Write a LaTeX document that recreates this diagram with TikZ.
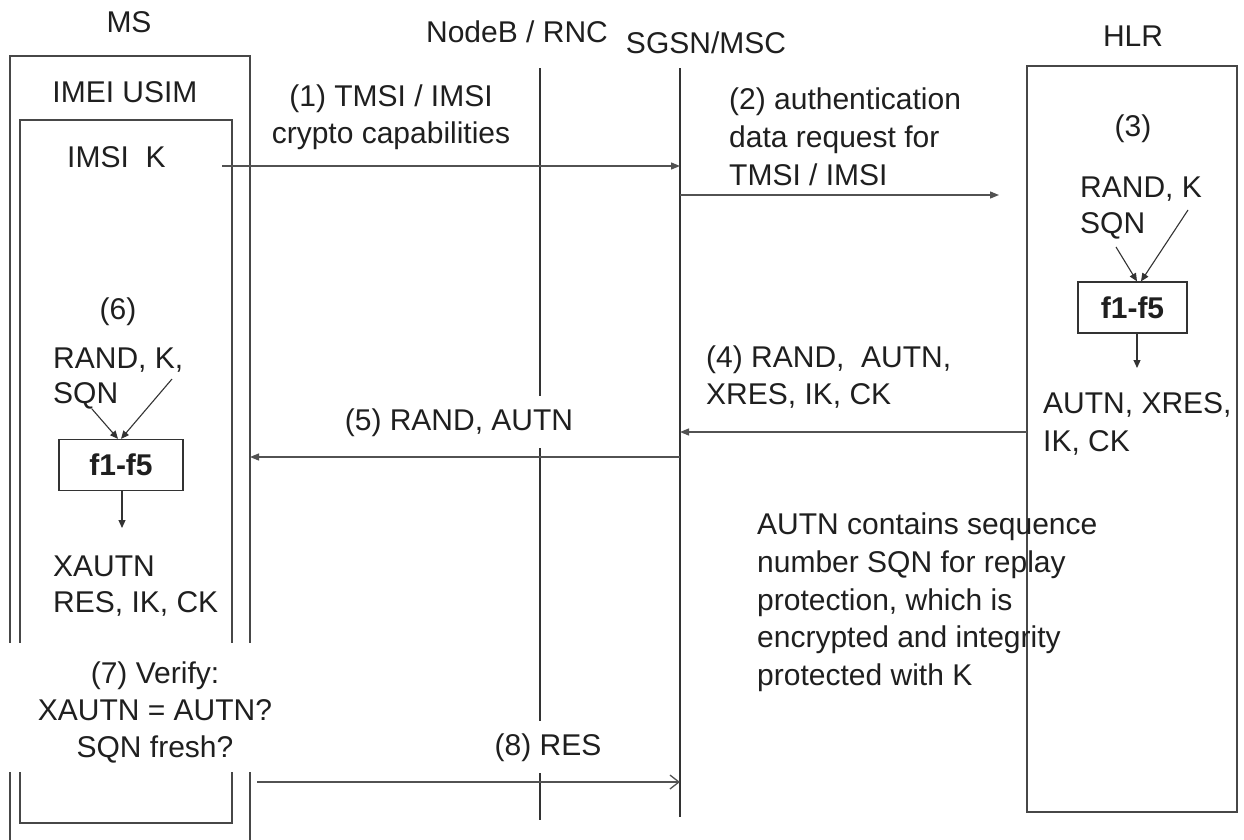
\documentclass[tikz,border=0pt]{standalone}
\usepackage{fontspec}
\setmainfont{Liberation Sans}
\usetikzlibrary{arrows.meta}
\begin{document}
\begin{tikzpicture}[x=1pt,y=-1pt,
  txt/.style={font=\fontsize{30}{37}\selectfont, text=black!88, inner sep=0pt},
  lbl/.style={txt, fill=white, inner xsep=6pt, inner ysep=12pt},
  frame/.style={draw=black!72, line width=1.4pt},
  life/.style={draw=black!80, line width=1.3pt},
  msg/.style={draw=black!68, line width=1.3pt, -{Triangle[length=9pt,width=7pt]}},
  msgopen/.style={draw=black!68, line width=1.3pt, -{Straight Barb[length=9pt,width=14pt]}},
  fbox/.style={draw=black!80, line width=1.3pt, font=\fontsize{30}{37}\selectfont\bfseries, text=black!88, minimum width=#1, minimum height=51pt, inner sep=0pt},
  inarr/.style={draw=black!80, line width=1.1pt, -{Triangle[length=8pt,width=7pt]}}
]
\useasboundingbox[fill=white] (0,0) rectangle (1244,839);

% ---- frames ----
\draw[frame] (10,860) -- (10,56) -- (250,56) -- (250,860);
\draw[frame] (20,120) rectangle (232,823);
\draw[frame] (1027,66) rectangle (1237,812);

% ---- lifelines ----
\coordinate (nbT) at (540,68);
\coordinate (nbB) at (540,820);
\coordinate (sgT) at (680,68);
\coordinate (sgB) at (680,817);
\draw[life] (nbT) -- (nbB);
\draw[life] (sgT) -- (sgB);

% ---- headers ----
\node[txt, anchor=base] (hMS) at (129,32) {MS};
\node[txt, anchor=base] (hNB) at (517,42) {NodeB / RNC};
\node[txt, anchor=base] (hSG) at (706,53) {SGSN/MSC};
\node[txt, anchor=base] (hHLR) at (1133,46) {HLR};
\node[txt, anchor=base] (usim) at (125,102) {IMEI USIM};
\node[txt, anchor=base west] (imsik) at (67,167) {IMSI\ \ K};

% ---- message 1 ----
\coordinate (m1s) at (222,166);
\coordinate (m1e) at (680,166);
\draw[msg] (m1s) -- (m1e);
\node[txt, anchor=base] (l1a) at (391,106) {(1) TMSI / IMSI};
\node[txt, anchor=base] (l1b) at (391,143) {crypto capabilities};

% ---- message 2 ----
\coordinate (m2s) at (680,195);
\coordinate (m2e) at (999,195);
\draw[msg] (m2s) -- (m2e);
\node[txt, anchor=base west] (l2a) at (729,109) {(2) authentication};
\node[txt, anchor=base west] (l2b) at (729,147) {data request for};
\node[txt, anchor=base west] (l2c) at (729,185) {TMSI / IMSI};

% ---- HLR computation (3) ----
\node[txt, anchor=base] (h3) at (1133,136) {(3)};
\node[txt, anchor=base west] (hrk) at (1080,197) {RAND, K};
\node[txt, anchor=base west] (hsqn) at (1080,233) {SQN};
\node[fbox=109pt] (hf) at (1132.5,307.5) {f1-f5};
\coordinate (ha1) at (1116,247);
\coordinate (ha2) at (1188,210);
\draw[inarr] (ha1) -- (hf.north -| 1137,0);
\draw[inarr] (ha2) -- (hf.north -| 1141,0);
\coordinate (hout) at (1137,368);
\draw[inarr] (hf.south -| 1137,0) -- (hout);
\node[txt, anchor=base west] (ho1) at (1043,413) {AUTN, XRES,};
\node[txt, anchor=base west] (ho2) at (1043,451) {IK, CK};

% ---- message 4 ----
\coordinate (m4s) at (1027,432);
\coordinate (m4e) at (680,432);
\draw[msg] (m4s) -- (m4e);
\node[txt, anchor=base west] (l4a) at (706,367) {(4) RAND,\ \ AUTN,};
\node[txt, anchor=base west] (l4b) at (706,404) {XRES, IK, CK};

% ---- message 5 ----
\coordinate (m5s) at (680,457);
\coordinate (m5e) at (250,457);
\draw[msg] (m5s) -- (m5e);
\node[lbl, anchor=base] (l5) at (459,430) {(5) RAND, AUTN};

% ---- MS computation (6) ----
\node[txt, anchor=base] (m6) at (118,319) {(6)};
\node[txt, anchor=base west] (mrk) at (53,368) {RAND, K,};
\node[txt, anchor=base west] (msqn) at (53,403) {SQN};
\node[fbox=124pt] (mf) at (121,465) {f1-f5};
\coordinate (ma1) at (92,409);
\coordinate (ma2) at (172,379);
\draw[inarr] (ma1) -- (mf.north -| 118,0);
\draw[inarr] (ma2) -- (mf.north -| 121,0);
\coordinate (mout) at (122,528);
\draw[inarr] (mf.south -| 122,0) -- (mout);
\node[txt, anchor=base west] (mo1) at (53,576) {XAUTN};
\node[txt, anchor=base west] (mo2) at (53,612) {RES, IK, CK};

% ---- verify (7) ----
\fill[white] (3,643) rectangle (283,772);
\node[txt, anchor=base] (v1) at (155,683) {(7) Verify:};
\node[txt, anchor=base] (v2) at (155,720) {XAUTN = AUTN?};
\node[txt, anchor=base] (v3) at (155,757) {SQN fresh?};

% ---- message 8 ----
\coordinate (m8s) at (257,782);
\coordinate (m8e) at (680,782);
\draw[msgopen] (m8s) -- (m8e);
\node[lbl, anchor=base] (l8) at (548,755) {(8) RES};

% ---- note ----
\node[txt, anchor=base west] (n1) at (757,534) {AUTN contains sequence};
\node[txt, anchor=base west] (n2) at (757,572) {number SQN for replay};
\node[txt, anchor=base west] (n3) at (757,610) {protection, which is};
\node[txt, anchor=base west] (n4) at (757,647) {encrypted and integrity};
\node[txt, anchor=base west] (n5) at (757,685) {protected with K};
\end{tikzpicture}
\end{document}
